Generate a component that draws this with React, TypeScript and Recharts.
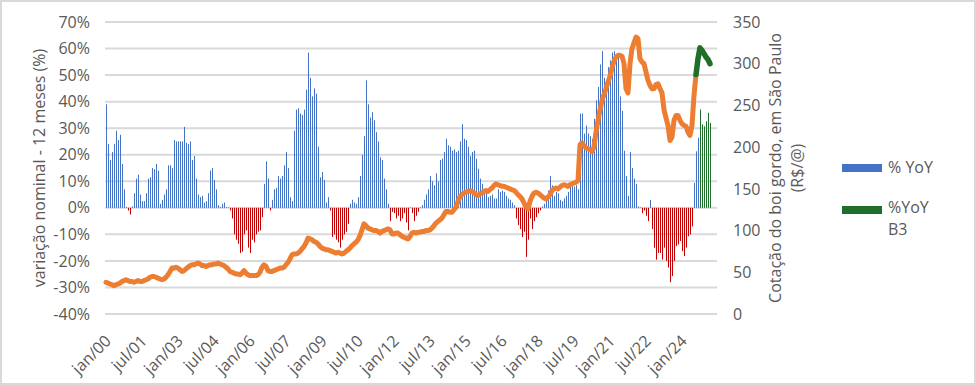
import React from "react";
import { ComposedChart, Bar, Line, XAxis, YAxis, CartesianGrid } from "recharts";

const FONT = "'Open Sans', 'Noto Sans', sans-serif";
const TEXT = "#595959";
const BLUE = "#4472c4";
const RED = "#c00000";
const GREEN = "#1f6e29";
const ORANGE = "#ed7d31";

const MONTHS = ["jan", "fev", "mar", "abr", "mai", "jun", "jul", "ago", "set", "out", "nov", "dez"];
const N_MONTHS = 306; // jan/00 .. jun/25

// % YoY (variação nominal 12 meses), jan/00 .. set/24
const yoy = [
  39, 24, 18, 21, 24, 29, 25.5, 27.5, 16.5, 7, 0.3, -1,
  -2.5, 0.5, 5.5, 11, 12.5, 5, 2.5, 2.5, 5.5, 11, 11.5, 15,
  14.5, 16.5, 14, 1.5, 3, 5, 7, 16, 16, 15, 25.5, 25,
  25, 25, 25, 30.5, 24.5, 24, 25, 18, 19.5, 11, 5, 4,
  4.5, 2, 2.5, 5.5, 14, 15, 10.5, 7, 1, 0.3, 1.5, 2,
  0.3, 0.2, -1, -4, -10, -12, -13.5, -17, -16.5, -10, -8.5, -15,
  -17, -12, -13, -10, -9, -8.5, -3.5, 9, 17.5, 11, -1, 3,
  7, 7.5, 12, 11, 12, 16, 21, 15, 4, 2.5, 29, 37,
  37.5, 35.5, 35, 37, 44.5, 58.5, 49, 42, 45, 43, 23, 11.5,
  13.5, 10.5, 2, 4, -1, -11, -10, -12, -13, -15, -12, -10,
  -9, -6, 1.5, 3, 2, 1.5, 4, 12, 20, 27, 48, 39,
  34, 36, 33, 28.5, 25, 19, 18, 11, 7, 1.5, -5, -1.5,
  -2, -4, -3, -5, -4, -2, -5.5, -8.5, 0.2, -2, -5, -3,
  -1.5, 0.2, 1, 3, 5, 7, 12, 10, 8.5, 13, 10, 18,
  18.5, 21, 26, 23.5, 23, 21.5, 22, 21, 21.5, 25, 31.5, 26,
  25.5, 23, 19.5, 21, 21.5, 18.5, 14.7, 11, 9, 7, 6, 4,
  4.5, 5, 3.5, 3.5, 7, 6, 6.5, 6, 4.5, 3.5, 3, 2,
  1, -4, -6.5, -8, -11, -9, -18.5, -12, -4, -8, -5, -3.5,
  -2, -1, 0.5, 1.5, 3.5, 6.5, 12, 8.5, 4.5, 6, 5.5, 3,
  2.5, 3.5, 4.5, 6, 8.5, 9, 8, 8.5, 7, 35.5, 35.5, 28,
  31, 28, 27, 26, 33.5, 40.5, 45.5, 54, 59, 49, 45, 53,
  55.5, 58.5, 59, 56.5, 57, 42, 36.5, 21.5, 12, 4.5, 21, 15,
  11, 9, 0.5, 0.2, -2, -1, -3, -5, 3, -8, -15, -19.5,
  -17, -17, -19.5, -15, -20, -22.5, -28, -25.7, -20, -14.4, -13.8, -12.5,
  -16.3, -18.2, -15, -10.7, -10, -7, 9.4, 21.3, 26.4,
];

// %YoY B3 (out/24 .. mar/25)
const B3_BAR_START = 297;
const yoyB3 = [37, 31.4, 30.7, 32.6, 35.8, 32];

// Cotação do boi gordo, SP (R$/@), jan/00 .. ago/24
const price = [
  38, 37, 36, 35, 34, 35, 36, 37, 39, 40, 41, 40,
  39, 39, 38, 39, 40, 39, 39, 40, 41, 42, 44, 45,
  45, 44, 43, 42, 41, 42, 44, 47, 51, 55, 55, 56,
  55, 53, 51, 52, 54, 56, 58, 59, 59, 60, 61, 60,
  58, 58, 57, 58, 59, 59, 60, 60, 61, 60, 59, 58,
  56, 54, 51, 50, 49, 48, 48, 47, 49, 52, 49, 47,
  46, 46, 46, 46, 47, 50, 56, 59, 57, 52, 51, 51,
  52, 53, 54, 55, 55, 56, 59, 62, 66, 71, 72, 72,
  73, 75, 78, 81, 85, 91, 90, 89, 87, 86, 84, 81,
  79, 78, 77, 77, 76, 75, 74, 73, 74, 73, 72, 73,
  75, 77, 79, 82, 84, 86, 89, 94, 101, 108, 106, 103,
  102, 101, 100, 100, 99, 97, 99, 100, 101, 102, 101, 96,
  96, 97, 97, 95, 93, 92, 91, 90, 93, 97, 98, 97,
  98, 98, 99, 99, 100, 100, 101, 103, 106, 109, 111, 113,
  115, 119, 123, 123, 122, 122, 125, 128, 135, 141, 143, 145,
  146, 147, 148, 147, 145, 143, 142, 144, 145, 147, 148, 147,
  149, 151, 154, 156, 155, 154, 153, 153, 152, 151, 150, 149,
  148, 146, 143, 141, 138, 133, 128, 126, 135, 141, 145, 146,
  145, 143, 141, 139, 138, 140, 143, 148, 150, 151, 150, 152,
  154, 155, 154, 153, 155, 156, 157, 158, 160, 203, 205, 202,
  199, 198, 197, 195, 200, 218, 232, 245, 256, 263, 270, 278,
  285, 295, 303, 308, 310, 310, 309, 300, 270, 265, 300, 318,
  325, 332, 330, 306, 302, 300, 290, 280, 274, 270, 270, 275,
  276, 270, 265, 245, 235, 226, 208, 212, 232, 238, 238, 232,
  228, 226, 225, 218, 214, 226, 262, 287,
];

// B3 futures (R$/@), ago/24 .. mar/25
const B3_LINE_START = 295;
const priceB3 = [287, 306, 319, 316, 312, 308, 305, 300];

const leftTicks = [-40, -30, -20, -10, 0, 10, 20, 30, 40, 50, 60, 70];
const rightTicks = [0, 50, 100, 150, 200, 250, 300, 350];

const data = Array.from({ length: N_MONTHS }, (_, i) => ({
  month: `${MONTHS[i % 12]}/${String(Math.floor(i / 12)).padStart(2, "0")}`,
  yoy: i < yoy.length ? yoy[i] : null,
  yoyB3: i >= B3_BAR_START && i - B3_BAR_START < yoyB3.length ? yoyB3[i - B3_BAR_START] : null,
  price: i < price.length ? price[i] : null,
  priceB3: i >= B3_LINE_START && i - B3_LINE_START < priceB3.length ? priceB3[i - B3_LINE_START] : null,
}));

// 1px bars snapped to whole pixels; yoy turns red below zero
function ThinBar(props: any) {
  const { x, y, width, height, fill, payload, dataKey } = props;
  const h = Math.abs(height);
  if (!h || isNaN(h)) return null;
  const top = Math.min(y, y + height);
  let color = fill;
  if (dataKey === "yoy") color = payload.yoy < 0 ? RED : BLUE;
  return <rect x={Math.round(x)} y={top} width={Math.max(1, Math.round(width))} height={h} fill={color} />;
}

function XTick({ x, y, payload }: any) {
  const px = x + 6;
  const py = y + 28;
  return (
    <text
      x={px}
      y={py}
      transform={`rotate(-45 ${px} ${py})`}
      textAnchor="end"
      fill={TEXT}
      fontSize={16}
      fontFamily={FONT}
    >
      {payload.value}
    </text>
  );
}

function LeftTitle({ viewBox }: any) {
  const cx = viewBox.x + 39;
  const cy = viewBox.y + viewBox.height / 2;
  return (
    <text
      x={cx}
      y={cy}
      transform={`rotate(-90 ${cx} ${cy})`}
      textAnchor="middle"
      dominantBaseline="central"
      fill={TEXT}
      fontSize={16}
      fontFamily={FONT}
    >
      variação nominal - 12 meses (%)
    </text>
  );
}

function RightTitle({ viewBox }: any) {
  const x1 = viewBox.x + 58;
  const x2 = viewBox.x + 80;
  const cy = viewBox.y + viewBox.height / 2;
  return (
    <g fill={TEXT} fontSize={16} fontFamily={FONT}>
      <text x={x1} y={cy} transform={`rotate(-90 ${x1} ${cy})`} textAnchor="middle" dominantBaseline="central">
        Cotação do boi gordo, em São Paulo
      </text>
      <text x={x2} y={cy} transform={`rotate(-90 ${x2} ${cy})`} textAnchor="middle" dominantBaseline="central">
        (R$/@)
      </text>
    </g>
  );
}

function LegendBox() {
  return (
    <svg
      width={140}
      height={95}
      style={{ position: "absolute", left: 836, top: 150, overflow: "visible" }}
    >
      <rect x={6} y={14} width={40} height={8} fill={BLUE} />
      <text x={52} y={23} fill={TEXT} fontSize={16} fontFamily={FONT}>
        % YoY
      </text>
      <rect x={6} y={56} width={40} height={8} fill={GREEN} />
      <text x={52} y={63} fill={TEXT} fontSize={16} fontFamily={FONT}>
        %YoY
        <tspan x={52} dy={22}>
          B3
        </tspan>
      </text>
    </svg>
  );
}

export default function App() {
  return (
    <div style={{ position: "absolute", left: 0, top: 0, width: 976, height: 385, background: "#fff" }}>
      <ComposedChart
        width={976}
        height={385}
        data={data}
        margin={{ top: 22, right: 0, bottom: 0, left: 0 }}
        stackOffset="sign"
      >
        <CartesianGrid yAxisId="left" vertical={false} stroke="#d9d9d9" strokeWidth={2} />
        <XAxis
          dataKey="month"
          interval={17}
          height={71}
          tickSize={0}
          tickMargin={0}
          axisLine={false}
          tickLine={false}
          tick={<XTick />}
        />
        <YAxis
          yAxisId="left"
          orientation="left"
          width={105}
          domain={[-40, 70]}
          ticks={leftTicks}
          tickFormatter={(v: number) => `${v}%`}
          axisLine={false}
          tickLine={false}
          tickSize={0}
          tickMargin={15}
          tick={{ fill: TEXT, fontSize: 16, fontFamily: FONT }}
          label={<LeftTitle />}
        />
        <YAxis
          yAxisId="right"
          orientation="right"
          width={259}
          domain={[0, 350]}
          ticks={rightTicks}
          axisLine={false}
          tickLine={false}
          tickSize={0}
          tickMargin={16}
          tick={{ fill: TEXT, fontSize: 16, fontFamily: FONT, textAnchor: "start" }}
          label={<RightTitle />}
        />
        <Bar
          yAxisId="left"
          dataKey="yoy"
          stackId="bars"
          barSize={1}
          fill={BLUE}
          shape={<ThinBar />}
          isAnimationActive={false}
        />
        <Bar
          yAxisId="left"
          dataKey="yoyB3"
          stackId="bars"
          barSize={1}
          fill={GREEN}
          shape={<ThinBar />}
          isAnimationActive={false}
        />
        <Line
          yAxisId="right"
          dataKey="price"
          type="linear"
          stroke={ORANGE}
          strokeWidth={5}
          strokeLinejoin="round"
          strokeLinecap="round"
          dot={false}
          isAnimationActive={false}
        />
        <Line
          yAxisId="right"
          dataKey="priceB3"
          type="linear"
          stroke={GREEN}
          strokeWidth={5.5}
          strokeLinejoin="round"
          strokeLinecap="round"
          dot={false}
          isAnimationActive={false}
        />
      </ComposedChart>
      <LegendBox />
      <div
        style={{
          position: "absolute",
          left: 0,
          top: 0,
          width: 972,
          height: 381,
          border: "2px solid #d9d9d9",
          pointerEvents: "none",
        }}
      />
    </div>
  );
}
